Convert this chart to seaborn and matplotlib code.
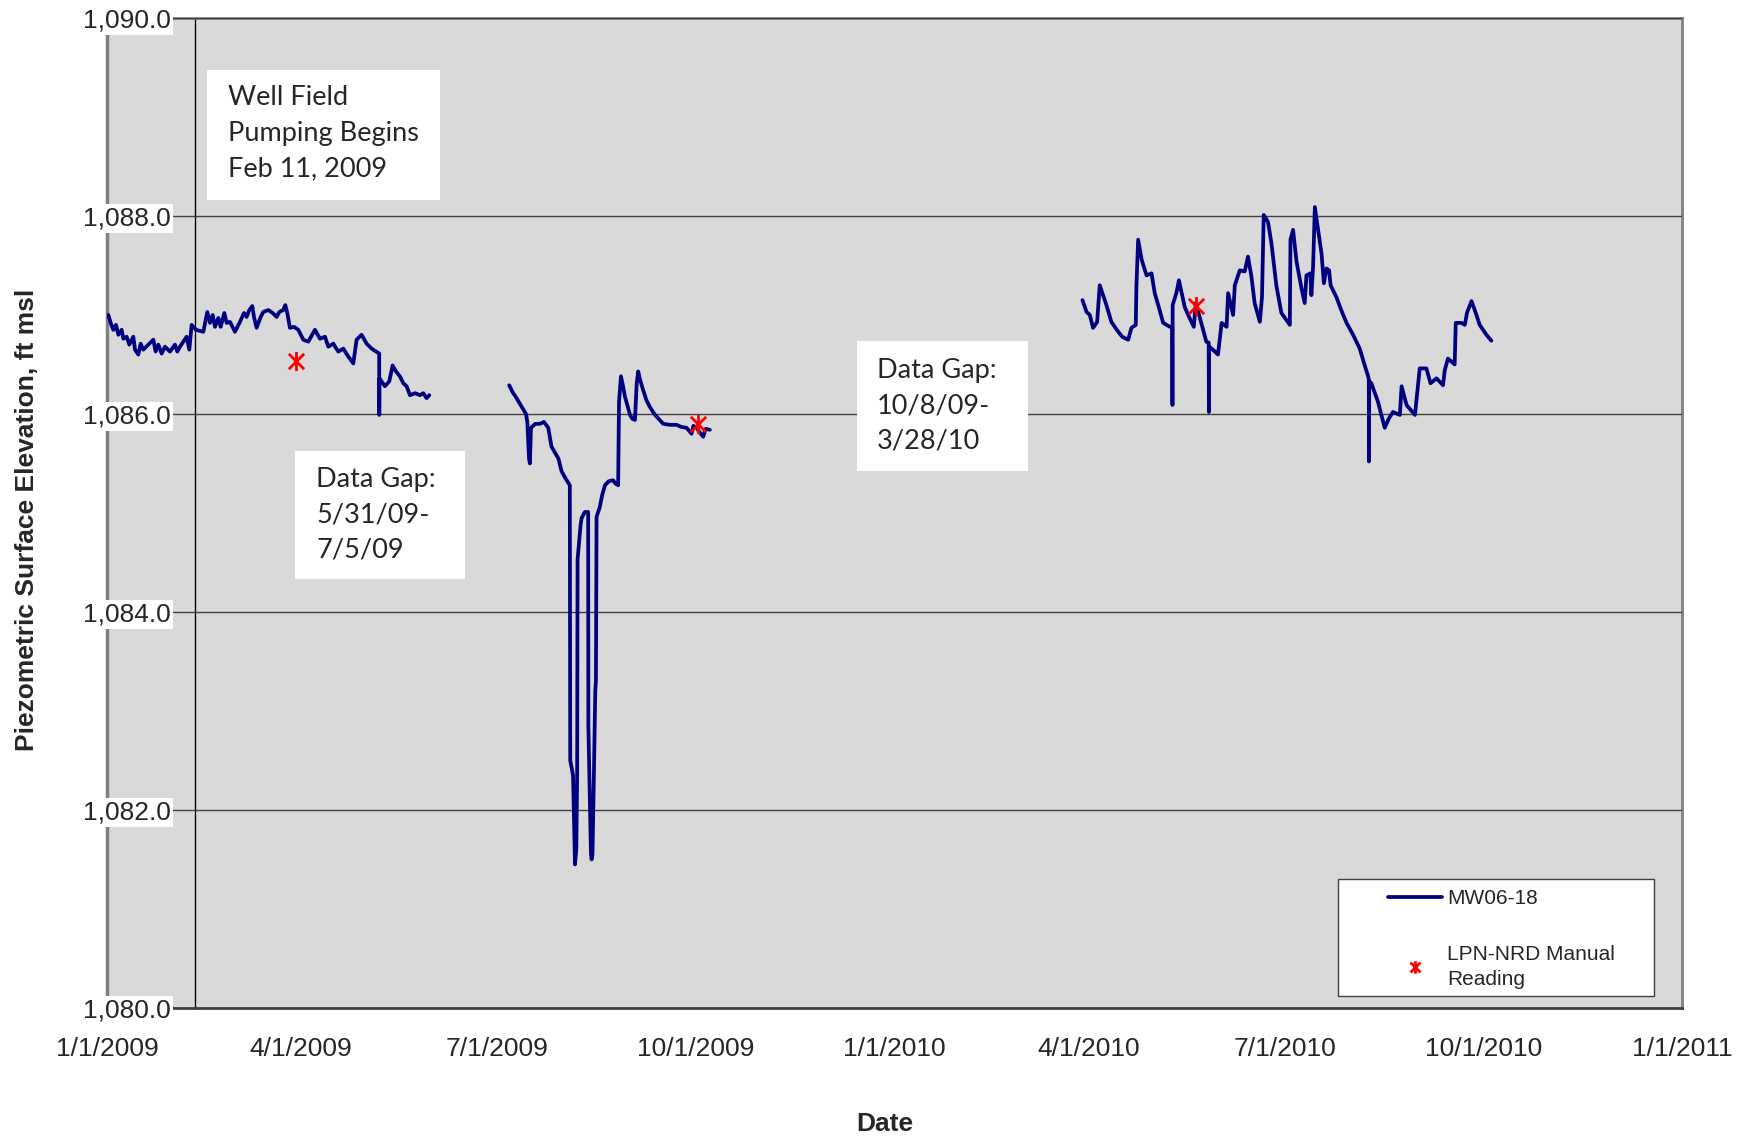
import pandas as pd
import matplotlib
matplotlib.use("Agg")
import matplotlib.pyplot as plt
import matplotlib.dates as mdates
from matplotlib.lines import Line2D
from matplotlib.patches import Rectangle
from matplotlib.path import Path
from matplotlib.ticker import MultipleLocator, FuncFormatter
import seaborn as sns

START = "2009-01-01"        # x values below are days elapsed since this date
PUMP_START = "2009-02-11"   # well field pumping begins (vertical axis crosses here)

# MW06-18 transducer record, three pieces separated by data gaps
seg1_days = [0.62, 1.70, 2.93, 4.17, 5.25, 6.80, 7.57, 9.11, 10.35, 12.20, 12.97, 14.52,
             15.60, 16.84, 19.15, 21.47, 22.55, 23.79, 25.33, 26.88, 29.19, 31.51, 32.59,
             33.83, 35.37, 36.92, 38.15, 39.23, 41.24, 44.64, 46.49, 47.73, 48.97, 50.05,
             51.59, 52.67, 54.37, 55.45, 57.0, 59.31, 61.63, 63.48, 64.72, 65.96, 67.35,
             68.12, 69.36, 71.21, 72.44, 74.76, 76.77, 78.62, 79.86, 81.71, 82.64, 83.56,
             84.80, 86.65, 88.66, 90.98, 93.29, 96.39, 98.70, 101.02, 102.56, 104.88,
             107.20, 109.51, 111.83, 114.15, 115.69, 118.01, 120.33, 122.65, 126.15, 126.20,
             126.25, 128.82, 130.83, 132.38, 133.92, 135.77, 137.32, 138.86, 140.41,
             142.73, 145.04, 146.59, 148.13, 149.37]
seg1_elev = [1087.00, 1086.92, 1086.85, 1086.90, 1086.80, 1086.85, 1086.76, 1086.78, 1086.70,
             1086.78, 1086.65, 1086.60, 1086.71, 1086.65, 1086.70, 1086.75, 1086.63, 1086.70,
             1086.61, 1086.68, 1086.63, 1086.70, 1086.63, 1086.68, 1086.73, 1086.78, 1086.65,
             1086.90, 1086.85, 1086.83, 1087.03, 1086.92, 1087.00, 1086.88, 1086.97, 1086.88,
             1087.02, 1086.92, 1086.93, 1086.83, 1086.93, 1087.02, 1086.98, 1087.05, 1087.09,
             1086.98, 1086.87, 1086.98, 1087.03, 1087.05, 1087.02, 1086.98, 1087.03, 1087.05,
             1087.10, 1087.02, 1086.87, 1086.88, 1086.85, 1086.75, 1086.73, 1086.85, 1086.76,
             1086.78, 1086.68, 1086.71, 1086.63, 1086.66, 1086.58, 1086.51, 1086.75, 1086.80,
             1086.71, 1086.66, 1086.61, 1085.99, 1086.36, 1086.28, 1086.33, 1086.49, 1086.43,
             1086.38, 1086.31, 1086.28, 1086.19, 1086.21, 1086.19, 1086.21, 1086.16, 1086.19]

seg2_days = [186.4, 188.0, 189.8, 192.0, 194.2, 194.8, 195.6, 196.0, 196.5, 198.5, 200.6,
             202.5, 204.5, 206.0, 209.2, 210.7, 212.5, 214.5, 214.7, 216.0, 216.9, 217.5,
             217.9, 218.1, 219.5, 220.0, 221.5, 223.0, 223.1, 224.3, 224.6, 225.0, 225.7,
             226.3, 226.6, 226.9, 228.4, 229.5, 230.8, 232.5, 234.6, 235.5, 236.9, 237.3,
             238.2, 239.0, 240.0, 242.4, 243.5, 244.7, 245.5, 246.2, 247.0, 248.5, 250.0,
             251.6, 254.0, 257.8, 261.0, 264.0, 266.0, 268.6, 270.9, 271.8, 273.2, 274.5,
             276.3, 277.5, 279.4]
seg2_elev = [1086.29, 1086.22, 1086.16, 1086.08, 1086.00, 1085.92, 1085.55, 1085.50, 1085.86,
             1085.90, 1085.90, 1085.92, 1085.86, 1085.67, 1085.55, 1085.42, 1085.35, 1085.28,
             1082.50, 1082.35, 1081.45, 1081.60, 1082.34, 1084.53, 1084.88, 1084.95, 1085.01,
             1085.01, 1082.84, 1081.55, 1081.50, 1081.55, 1082.40, 1083.20, 1083.30, 1084.96,
             1085.06, 1085.18, 1085.28, 1085.32, 1085.33, 1085.30, 1085.28, 1086.12, 1086.38,
             1086.30, 1086.18, 1085.99, 1085.95, 1085.94, 1086.31, 1086.43, 1086.35, 1086.24,
             1086.14, 1086.07, 1085.99, 1085.90, 1085.89, 1085.89, 1085.87, 1085.86, 1085.80,
             1085.88, 1085.86, 1085.82, 1085.77, 1085.85, 1085.84]

seg3_days = [452.1, 454.0, 455.5, 457.0, 458.9, 460.1, 463.2, 465.5, 468.0, 470.5, 473.3,
             474.8, 476.8, 477.1, 477.9, 479.5, 481.8, 484.1, 485.6, 487.2, 489.5, 492.6,
             493.7, 493.8, 493.9, 495.6, 496.8, 499.5, 501.5, 503.7, 504.6, 506.4, 509.5,
             510.6, 510.7, 510.8, 512.5, 514.9, 516.6, 518.9, 519.6, 521.9, 522.7, 525.0,
             527.3, 528.8, 530.4, 531.9, 534.3, 535.3, 536.1, 538.1, 539.7, 542.0, 544.3,
             548.2, 548.5, 549.7, 551.3, 553.6, 555.1, 555.9, 557.7, 558.2, 559.0, 559.8,
             561.3, 562.9, 564.0, 565.2, 566.4, 567.1, 569.8, 572.0, 574.5, 577.5, 580.6,
             582.5, 584.5, 584.8, 584.9, 585.0, 586.0, 589.1, 590.5, 592.2, 594.0, 596.0,
             599.2, 600.0, 602.3, 606.2, 606.9, 608.4, 611.5, 613.4, 616.2, 619.2, 620.0,
             621.5, 624.6, 625.1, 627.7, 629.3, 630.3, 632.4, 633.9, 636.2, 639.3, 641.6]
seg3_elev = [1087.15, 1087.03, 1087.00, 1086.87, 1086.93, 1087.30, 1087.10, 1086.93, 1086.85,
             1086.78, 1086.75, 1086.87, 1086.90, 1087.29, 1087.76, 1087.56, 1087.40, 1087.42,
             1087.22, 1087.10, 1086.92, 1086.88, 1086.88, 1086.09, 1087.10, 1087.22, 1087.35,
             1087.08, 1086.98, 1086.88, 1087.12, 1086.98, 1086.73, 1086.72, 1086.02, 1086.68,
             1086.65, 1086.60, 1086.92, 1086.88, 1087.22, 1087.00, 1087.30, 1087.45, 1087.44,
             1087.59, 1087.39, 1087.12, 1086.93, 1087.18, 1088.01, 1087.94, 1087.72, 1087.29,
             1087.02, 1086.90, 1087.76, 1087.86, 1087.54, 1087.27, 1087.12, 1087.40, 1087.42,
             1087.20, 1087.50, 1088.09, 1087.86, 1087.62, 1087.32, 1087.47, 1087.45, 1087.30,
             1087.18, 1087.05, 1086.92, 1086.80, 1086.66, 1086.52, 1086.38, 1086.35, 1085.52,
             1086.33, 1086.31, 1086.12, 1086.00, 1085.86, 1085.95, 1086.02, 1085.99, 1086.28,
             1086.09, 1085.99, 1086.14, 1086.46, 1086.46, 1086.31, 1086.36, 1086.29, 1086.44,
             1086.56, 1086.50, 1086.92, 1086.92, 1086.90, 1087.02, 1087.14, 1087.05, 1086.90,
             1086.80, 1086.74]

# LPN-NRD manual readings
manual_days = [87.4, 274.0, 504.6]
manual_elev = [1086.53, 1085.90, 1087.09]

NAVY = "#000080"

# === Build tables ===
start = pd.Timestamp(START)
pieces = []
for seg_id, (d, e) in enumerate([(seg1_days, seg1_elev), (seg2_days, seg2_elev), (seg3_days, seg3_elev)]):
    pieces.append(pd.DataFrame({"date": start + pd.to_timedelta(d, unit="D"), "elev": e, "segment": seg_id}))
wells = pd.concat(pieces, ignore_index=True)
manual = pd.DataFrame({"date": start + pd.to_timedelta(manual_days, unit="D"), "elev": manual_elev})

# Excel-like asterisk marker (x with a vertical bar)
STAR = Path([(-1, -1), (1, 1), (-1, 1), (1, -1), (0, -1.25), (0, 1.25)],
            [Path.MOVETO, Path.LINETO, Path.MOVETO, Path.LINETO, Path.MOVETO, Path.LINETO])

# === Plot ===
sns.set_style("white")
plt.rcParams["font.family"] = ["Liberation Sans", "DejaVu Sans"]

fig = plt.figure(figsize=(17.54, 11.37), dpi=100)
ax = fig.add_axes([0.0610, 0.1135, 0.8980, 0.8707])
ax.set_facecolor("#d9d9d9")

sns.lineplot(data=wells, x="date", y="elev", units="segment", estimator=None,
             color=NAVY, lw=2.7, ax=ax, zorder=3, legend=False)
sns.scatterplot(data=manual, x="date", y="elev", marker=STAR, s=190, color="red",
                edgecolor="red", linewidth=2, ax=ax, zorder=4, legend=False)

x0, x1 = pd.Timestamp("2009-01-01"), pd.Timestamp("2011-01-01")
ax.set_xlim(x0, x1)
ax.set_ylim(1080, 1090)
ax.set_xlabel("")
ax.set_ylabel("")

# vertical axis crosses at pump start date
ax.spines["left"].set_position(("data", mdates.date2num(pd.Timestamp(PUMP_START))))
ax.spines["left"].set_color("black")
ax.spines["left"].set_linewidth(1)
for side in ["top", "right"]:
    ax.spines[side].set_color("#808080")
    ax.spines[side].set_linewidth(2)
ax.spines["bottom"].set_color("#404040")
ax.spines["bottom"].set_linewidth(2)
ax.axvline(x0, color="#808080", lw=2.5, zorder=2.4, clip_on=False)

ax.set_axisbelow(False)
ax.yaxis.grid(True, color="#404040", lw=1)
ax.xaxis.grid(False)

ax.yaxis.set_major_locator(MultipleLocator(2))
ax.yaxis.set_major_formatter(FuncFormatter(lambda v, p: f"{v:,.1f}"))
ax.xaxis.set_major_locator(mdates.MonthLocator(bymonth=[1, 4, 7, 10]))
ax.xaxis.set_minor_locator(mdates.MonthLocator())


def fmt_date(v, pos):
    d = mdates.num2date(v)
    return f"{d.month}/{d.day}/{d.year}"


ax.xaxis.set_major_formatter(FuncFormatter(fmt_date))

ax.tick_params(axis="x", which="major", direction="inout", length=10, width=1,
               color="#404040", labelsize=19, pad=16)
ax.tick_params(axis="x", which="minor", direction="in", length=5, width=1, color="#404040")
ax.tick_params(axis="y", which="major", direction="out", length=17, width=1,
               color="#404040", labelsize=19, pad=0.5)
ax.tick_params(axis="y", which="minor", length=0)

for lab in ax.get_yticklabels():
    lab.set_bbox(dict(facecolor="white", edgecolor="none", pad=1.5))

fig.text(0.0154, 0.5427, "Piezometric Surface Elevation, ft msl", rotation=90,
         ha="center", va="center", fontsize=19, fontweight="bold")
fig.text(0.5046, 0.0115, "Date", ha="center", va="center", fontsize=19, fontweight="bold")

# === Annotation boxes ===
notes = [
    ((0.0635, 0.8162, 0.1479, 0.1313), (0.0768, 0.8838), "Well Field\nPumping Begins\nFeb 11, 2009"),
    ((0.1194, 0.4333, 0.1079, 0.1293), (0.1327, 0.4980), "Data Gap:\n5/31/09-\n7/5/09"),
    ((0.4762, 0.5424, 0.1086, 0.1313), (0.4889, 0.6081), "Data Gap:\n10/8/09-\n3/28/10"),
]
for (bx, by, bw, bh), (tx, ty), txt in notes:
    ax.add_patch(Rectangle((bx, by), bw, bh, transform=ax.transAxes, facecolor="white",
                           edgecolor="none", zorder=5))
    ax.text(tx, ty, txt, transform=ax.transAxes, ha="left", va="center", fontsize=19.5,
            family=["Lato", "DejaVu Sans"], linespacing=1.52, zorder=6)

# === Legend ===
ax.add_patch(Rectangle((0.7816, 0.0121), 0.2006, 0.1182, transform=ax.transAxes,
                       facecolor="white", edgecolor="#404040", lw=1, zorder=5))
handles = [Line2D([], [], color=NAVY, lw=2.7),
           Line2D([], [], ls="none", marker=STAR, ms=9, mec="red", mfc="red", mew=2)]
leg = ax.legend(handles, ["MW06-18", "LPN-NRD Manual\nReading"], loc="upper left",
                bbox_to_anchor=(0.8133, 0.1200), frameon=False, fontsize=15,
                handlelength=2.6, handletextpad=0.25, labelspacing=1.75,
                borderpad=0, borderaxespad=0)
leg.get_texts()[1].set_linespacing(1.45)
leg.set_zorder(6)

fig.savefig("out.png", dpi=100)
